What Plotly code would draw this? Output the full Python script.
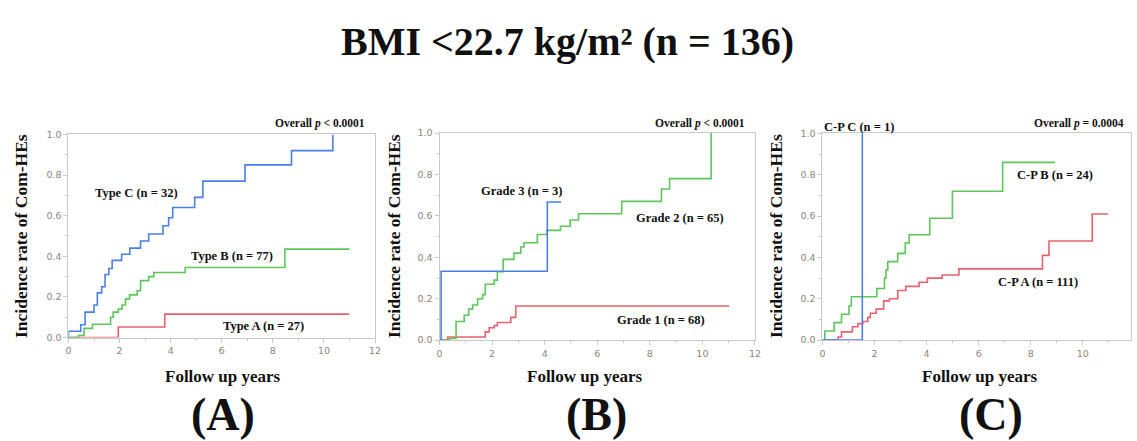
import plotly.graph_objects as go

W, H = 1137, 441

# ---------- data ----------
# Panel A
typeC_x = [0, 0, 0.48, 0.65, 1.0, 1.13, 1.3, 1.43, 1.58, 1.71, 2.08, 2.4, 2.82, 3.14, 3.7, 3.92, 4.08, 4.94, 5.26, 6.91, 8.73, 10.35]
typeC_y = [0, 0.031, 0.0625, 0.125, 0.16, 0.22, 0.25, 0.31, 0.34, 0.38, 0.41, 0.44, 0.475, 0.51, 0.55, 0.59, 0.64, 0.69, 0.77, 0.85, 0.92, 1.0]
typeB_x = [0, 0.39, 0.61, 0.94, 1.65, 1.75, 1.95, 2.1, 2.23, 2.39, 2.69, 2.82, 3.14, 3.34, 4.57, 8.47, 11.0]
typeB_y = [0, 0.01, 0.045, 0.065, 0.1, 0.125, 0.14, 0.16, 0.19, 0.21, 0.23, 0.28, 0.30, 0.32, 0.345, 0.435, 0.435]
typeA_x = [0, 1.95, 3.77, 11.0]
typeA_y = [0, 0.052, 0.115, 0.115]

# Panel B
g3_x = [0, 0.06, 4.1, 4.63]
g3_y = [0, 0.333, 0.667, 0.667]
g2_x = [0, 0.38, 0.63, 0.94, 1.11, 1.26, 1.45, 1.64, 1.74, 2.08, 2.2, 2.42, 2.83, 3.09, 3.21, 3.72, 4.09, 4.6, 4.97, 5.29, 6.93, 8.44, 8.75, 10.33]
g2_y = [0, 0.008, 0.09, 0.12, 0.15, 0.17, 0.2, 0.22, 0.27, 0.29, 0.33, 0.39, 0.42, 0.45, 0.47, 0.51, 0.53, 0.55, 0.58, 0.61, 0.67, 0.73, 0.78, 1.0]
g1_x = [0, 0.31, 1.74, 1.89, 2.08, 2.2, 2.71, 2.9, 11.02]
g1_y = [0, 0.015, 0.04, 0.06, 0.07, 0.085, 0.11, 0.165, 0.165]

# Panel C
cpc_x = [0, 1.53]
cpc_y = [0, 1.0]
cpb_x = [0, 0.09, 0.45, 0.73, 1.02, 1.11, 2.09, 2.38, 2.44, 2.51, 2.89, 3.18, 3.33, 4.12, 4.99, 6.92, 8.93]
cpb_y = [0, 0.044, 0.085, 0.125, 0.165, 0.21, 0.25, 0.30, 0.34, 0.38, 0.42, 0.47, 0.51, 0.59, 0.72, 0.86, 0.86]
cpa_x = [0, 0.6, 0.73, 1.15, 1.36, 1.55, 1.74, 1.84, 2.06, 2.35, 2.57, 2.89, 3.2, 3.71, 4.03, 4.6, 5.24, 8.45, 8.7, 10.36, 10.97]
cpa_y = [0, 0.015, 0.04, 0.065, 0.08, 0.09, 0.11, 0.13, 0.15, 0.19, 0.2, 0.24, 0.26, 0.28, 0.3, 0.315, 0.345, 0.41, 0.48, 0.61, 0.61]

x_ticks = [0, 2, 4, 6, 8, 10, 12]
y_ticks = [0.0, 0.2, 0.4, 0.6, 0.8, 1.0]

BLUE = "#4a7fe6"
GREEN = "#5cc65a"
RED = "#e6626c"
SERIF = "Liberation Serif"

fig = go.Figure()

def step(x, y, color, xa, ya):
    fig.add_trace(go.Scatter(x=x, y=y, mode="lines", line=dict(color=color, width=1.6, shape="hv"),
                             xaxis=xa, yaxis=ya, showlegend=False, hoverinfo="skip"))

step(typeA_x, typeA_y, RED, "x", "y")
step(typeB_x, typeB_y, GREEN, "x", "y")
step(typeC_x, typeC_y, BLUE, "x", "y")
step(g1_x, g1_y, RED, "x2", "y2")
step(g2_x, g2_y, GREEN, "x2", "y2")
step(g3_x, g3_y, BLUE, "x2", "y2")
step(cpa_x, cpa_y, RED, "x3", "y3")
step(cpb_x, cpb_y, GREEN, "x3", "y3")
step(cpc_x, cpc_y, BLUE, "x3", "y3")

def px(xp):
    return xp / W

def py(yp):
    return 1 - yp / H

axis_common = dict(showgrid=False, zeroline=False, showline=True, linecolor="#c9c9c9", linewidth=1,
                   mirror=True, ticks="outside", ticklen=4, tickcolor="#c9c9c9",
                   tickfont=dict(family="DejaVu Sans", size=9.5, color="#8a8580"))

xdoms = [(66, 375), (440, 758), (826, 1137)]
ydoms = [(340, 131.7), (342.7, 130.3), (342.7, 130.7)]
for i in range(3):
    sx = "" if i == 0 else str(i + 1)
    xr = [0, 12] if i < 2 else [0, 11.85]
    fig.update_layout(**{
        f"xaxis{sx}": dict(domain=[px(xdoms[i][0]), px(xdoms[i][1])], range=xr, tickvals=x_ticks,
                           anchor=f"y{sx}", minor=dict(dtick=1, ticks="outside", ticklen=2, tickcolor="#c9c9c9"),
                           **axis_common),
        f"yaxis{sx}": dict(domain=[py(ydoms[i][0]), py(ydoms[i][1])], range=[0, 1.0], tickvals=y_ticks,
                           tickformat=".1f", anchor=f"x{sx}",
                           minor=dict(dtick=0.1, ticks="outside", ticklen=2, tickcolor="#c9c9c9"),
                           **axis_common),
    })

ann = []

def txt(text, x, y, size, xref="paper", yref="paper", textangle=0):
    ann.append(dict(text=text, x=x, y=y, xref=xref, yref=yref, showarrow=False, textangle=textangle,
                    xanchor="center", yanchor="middle",
                    font=dict(family=SERIF, size=size, color="#111111", weight="bold")))

# Title
txt("BMI &lt;22.7 kg/m² (n = 136)", 0.5, py(36), 40)

# Curve labels
LS = 12.5
txt("Type C (n = 32)", 2.67, 0.71, LS, "x", "y")
txt("Type B (n = 77)", 6.39, 0.40, LS, "x", "y")
txt("Type A (n = 27)", 7.65, 0.058, LS, "x", "y")
txt("Grade 3 (n = 3)", 3.1, 0.72, LS, "x2", "y2")
txt("Grade 2 (n = 65)", 9.13, 0.59, LS, "x2", "y2")
txt("Grade 1 (n = 68)", 8.42, 0.097, LS, "x2", "y2")
txt("C-P B (n = 24)", 8.93, 0.80, LS, "x3", "y3")
txt("C-P A (n = 111)", 8.28, 0.28, LS, "x3", "y3")
txt("C-P C (n = 1)", px(863), py(124), LS)

# p-values
txt("Overall <i>p</i> &lt; 0.0001", px(320), py(120), 11.5)
txt("Overall <i>p</i> &lt; 0.0001", px(703), py(121), 11.5)
txt("Overall <i>p</i> = 0.0004", px(1085), py(121), 11.5)

# Axis titles
for xc in (18, 394, 779):
    txt("Incidence rate of Com-HEs", px(xc), py(236), 17.5, textangle=-90)
for xc in (222, 587, 985):
    txt("Follow up years", px(xc), py(380), 17)
for lab, xc in (("(A)", 222), ("(B)", 598), ("(C)", 996)):
    txt(lab, px(xc), py(419), 46)

fig.update_layout(width=W, height=H, margin=dict(l=0, r=0, t=0, b=0),
                  paper_bgcolor="white", plot_bgcolor="white", annotations=ann)

fig.write_html("out.html")
